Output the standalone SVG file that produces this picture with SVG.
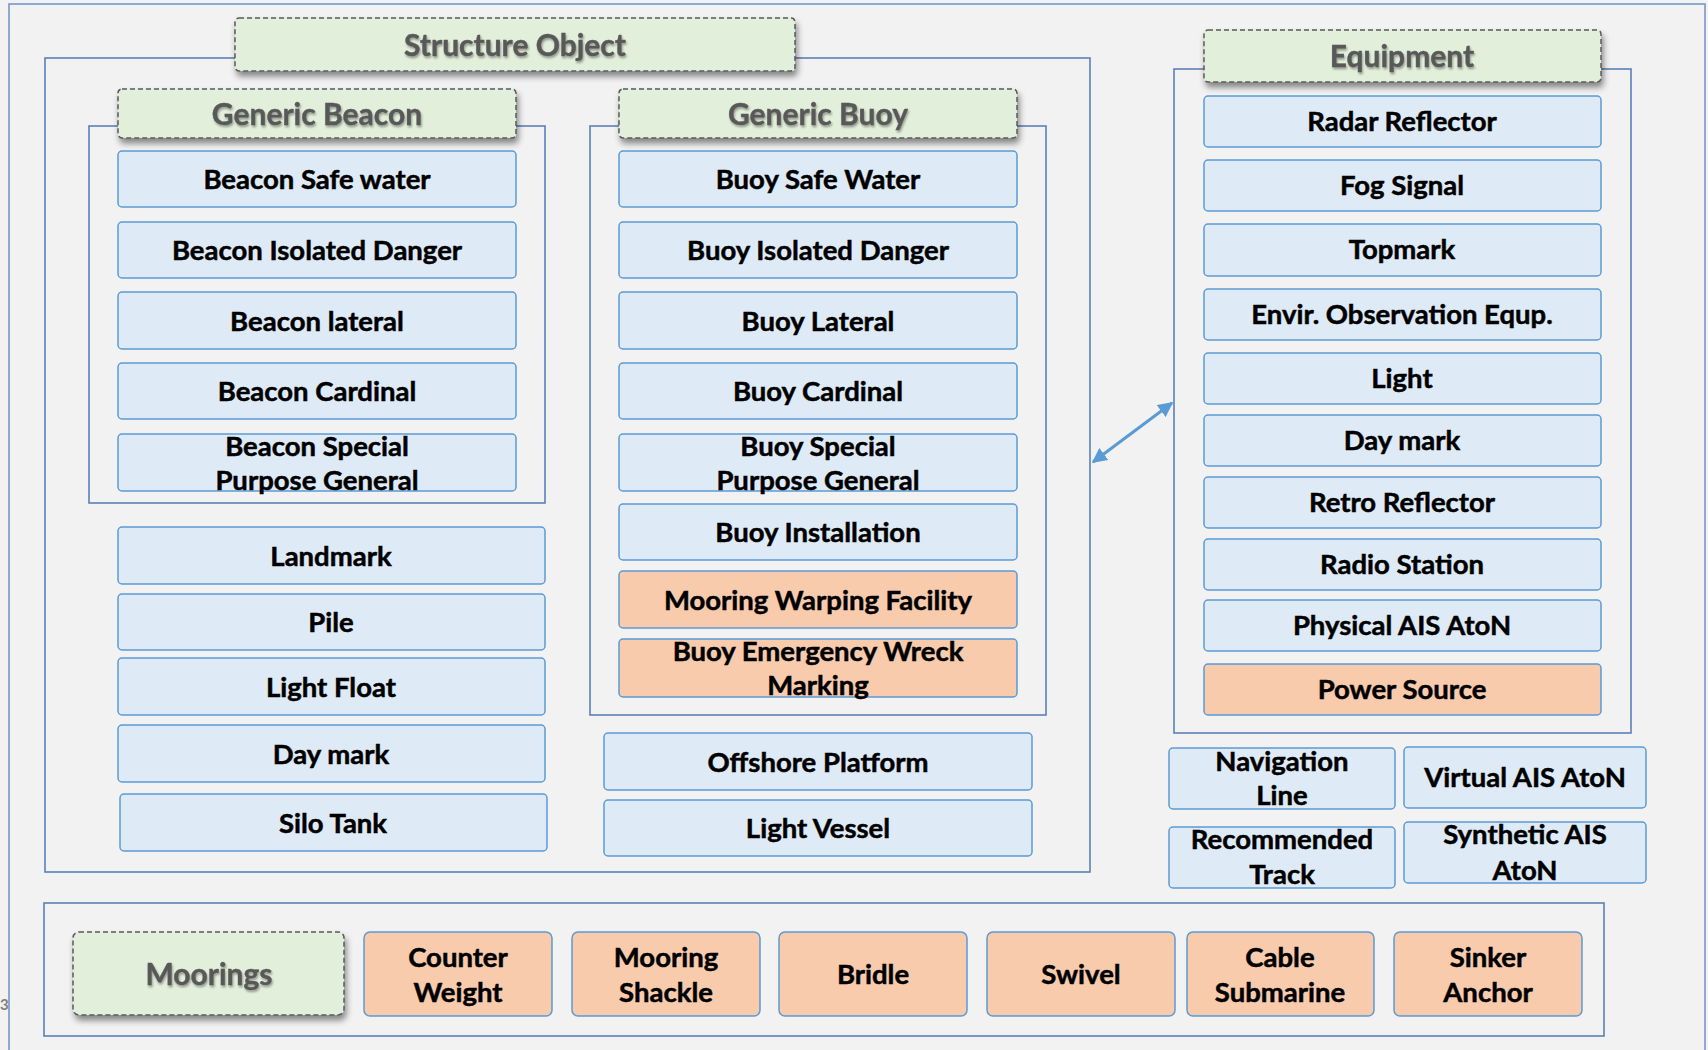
<svg xmlns="http://www.w3.org/2000/svg" width="1708" height="1050" viewBox="0 0 1708 1050">
<defs>
<style>
.bg{fill:#f2f2f2}
.frame{fill:none;stroke:#6f92c4;stroke-width:1.5}
.cont{fill:none;stroke:#5a80b6;stroke-width:1.6}
.hdr{fill:#e2efda;stroke:#595959;stroke-width:1.5;stroke-dasharray:5 3}
.bb{fill:#deebf7;stroke:#5b9bd5;stroke-width:1.5}
.ob{fill:#f8cbad;stroke:#5b9bd5;stroke-width:1.5}
.t{font-family:Lato,"Open Sans","Liberation Sans",sans-serif;font-weight:bold;font-size:27.5px;fill:#000;stroke:#000;stroke-width:0.5;text-anchor:middle}
.ht{font-family:Lato,"Open Sans","Liberation Sans",sans-serif;font-weight:bold;font-size:30px;fill:#595959;stroke:#595959;stroke-width:0.4;text-anchor:middle}
.conn{stroke:#5b9bd5;stroke-width:3;fill:none}
</style>
<filter id="sh" x="-10%" y="-30%" width="120%" height="170%">
<feDropShadow dx="2" dy="5" stdDeviation="3" flood-color="#000" flood-opacity="0.45"/>
</filter>
<filter id="tsh" x="-10%" y="-30%" width="120%" height="170%">
<feDropShadow dx="1" dy="2" stdDeviation="1.2" flood-color="#000" flood-opacity="0.35"/>
</filter>
<marker id="ah" viewBox="0 0 10 10" refX="9" refY="5" markerWidth="5" markerHeight="5" orient="auto-start-reverse" markerUnits="strokeWidth">
<path d="M0,0 L10,5 L0,10 z" fill="#5b9bd5"/>
</marker>
</defs>
<rect class="bg" x="0" y="0" width="1708" height="1050"/>
<text x="0" y="1010" style="font-family:Lato,sans-serif;font-weight:bold;font-size:15px;fill:#808080">3</text>
<rect class="frame" x="9" y="4" width="1696" height="1060"/>

<g id="structure-object">
<rect class="cont" x="45" y="58" width="1045" height="814"/>
<rect class="hdr" x="235" y="18" width="560" height="53" rx="4" filter="url(#sh)"/>
<text class="ht" x="515" y="56" filter="url(#tsh)">Structure Object</text>
</g>

<g id="generic-beacon">
<rect class="cont" x="89" y="126" width="456" height="377"/>
<rect class="hdr" x="118" y="89" width="398" height="49" rx="4" filter="url(#sh)"/>
<text class="ht" x="317" y="125" filter="url(#tsh)">Generic Beacon</text>
</g>
<g id="beacon-safe-water"><rect class="bb" x="118" y="151" width="398" height="56" rx="4"/><text class="t" x="317" y="189">Beacon Safe water</text></g>
<g id="beacon-isolated-danger"><rect class="bb" x="118" y="222" width="398" height="56" rx="4"/><text class="t" x="317" y="260">Beacon Isolated Danger</text></g>
<g id="beacon-lateral"><rect class="bb" x="118" y="292" width="398" height="57" rx="4"/><text class="t" x="317" y="331">Beacon lateral</text></g>
<g id="beacon-cardinal"><rect class="bb" x="118" y="363" width="398" height="56" rx="4"/><text class="t" x="317" y="401">Beacon Cardinal</text></g>
<g id="beacon-special"><rect class="bb" x="118" y="434" width="398" height="57" rx="4"/><text class="t" x="317" y="456">Beacon Special</text><text class="t" x="317" y="490">Purpose General</text></g>

<g id="landmark"><rect class="bb" x="118" y="527" width="427" height="57" rx="4"/><text class="t" x="331" y="566">Landmark</text></g>
<g id="pile"><rect class="bb" x="118" y="594" width="427" height="56" rx="4"/><text class="t" x="331" y="632">Pile</text></g>
<g id="light-float"><rect class="bb" x="118" y="658" width="427" height="57" rx="4"/><text class="t" x="331" y="697">Light Float</text></g>
<g id="day-mark-1"><rect class="bb" x="118" y="725" width="427" height="57" rx="4"/><text class="t" x="331" y="764">Day mark</text></g>
<g id="silo-tank"><rect class="bb" x="120" y="794" width="427" height="57" rx="4"/><text class="t" x="333" y="833">Silo Tank</text></g>

<g id="generic-buoy">
<rect class="cont" x="590" y="126" width="456" height="589"/>
<rect class="hdr" x="619" y="89" width="398" height="49" rx="4" filter="url(#sh)"/>
<text class="ht" x="818" y="125" filter="url(#tsh)">Generic Buoy</text>
</g>
<g id="buoy-safe-water"><rect class="bb" x="619" y="151" width="398" height="56" rx="4"/><text class="t" x="818" y="189">Buoy Safe Water</text></g>
<g id="buoy-isolated-danger"><rect class="bb" x="619" y="222" width="398" height="56" rx="4"/><text class="t" x="818" y="260">Buoy Isolated Danger</text></g>
<g id="buoy-lateral"><rect class="bb" x="619" y="292" width="398" height="57" rx="4"/><text class="t" x="818" y="331">Buoy Lateral</text></g>
<g id="buoy-cardinal"><rect class="bb" x="619" y="363" width="398" height="56" rx="4"/><text class="t" x="818" y="401">Buoy Cardinal</text></g>
<g id="buoy-special"><rect class="bb" x="619" y="434" width="398" height="57" rx="4"/><text class="t" x="818" y="456">Buoy Special</text><text class="t" x="818" y="490">Purpose General</text></g>
<g id="buoy-installation"><rect class="bb" x="619" y="504" width="398" height="56" rx="4"/><text class="t" x="818" y="542">Buoy Installation</text></g>
<g id="mooring-warping"><rect class="ob" x="619" y="571" width="398" height="57" rx="4"/><text class="t" x="818" y="610">Mooring Warping Facility</text></g>
<g id="buoy-emergency"><rect class="ob" x="619" y="639" width="398" height="58" rx="4"/><text class="t" x="818" y="661">Buoy Emergency Wreck</text><text class="t" x="818" y="695">Marking</text></g>

<g id="offshore-platform"><rect class="bb" x="604" y="733" width="428" height="57" rx="4"/><text class="t" x="818" y="772">Offshore Platform</text></g>
<g id="light-vessel"><rect class="bb" x="604" y="800" width="428" height="56" rx="4"/><text class="t" x="818" y="838">Light Vessel</text></g>

<g id="equipment">
<rect class="cont" x="1174" y="69" width="457" height="664"/>
<rect class="hdr" x="1204" y="30" width="397" height="52" rx="4" filter="url(#sh)"/>
<text class="ht" x="1402" y="67" filter="url(#tsh)">Equipment</text>
</g>
<g id="radar-reflector"><rect class="bb" x="1204" y="96" width="397" height="51" rx="4"/><text class="t" x="1402" y="131">Radar Reflector</text></g>
<g id="fog-signal"><rect class="bb" x="1204" y="160" width="397" height="51" rx="4"/><text class="t" x="1402" y="195">Fog Signal</text></g>
<g id="topmark"><rect class="bb" x="1204" y="224" width="397" height="52" rx="4"/><text class="t" x="1402" y="259">Topmark</text></g>
<g id="envir-obs"><rect class="bb" x="1204" y="289" width="397" height="51" rx="4"/><text class="t" x="1402" y="324">Envir. Observation Equp.</text></g>
<g id="light"><rect class="bb" x="1204" y="353" width="397" height="51" rx="4"/><text class="t" x="1402" y="388">Light</text></g>
<g id="day-mark-2"><rect class="bb" x="1204" y="415" width="397" height="51" rx="4"/><text class="t" x="1402" y="450">Day mark</text></g>
<g id="retro-reflector"><rect class="bb" x="1204" y="477" width="397" height="51" rx="4"/><text class="t" x="1402" y="512">Retro Reflector</text></g>
<g id="radio-station"><rect class="bb" x="1204" y="539" width="397" height="51" rx="4"/><text class="t" x="1402" y="574">Radio Station</text></g>
<g id="physical-ais"><rect class="bb" x="1204" y="600" width="397" height="51" rx="4"/><text class="t" x="1402" y="635">Physical AIS AtoN</text></g>
<g id="power-source"><rect class="ob" x="1204" y="664" width="397" height="51" rx="4"/><text class="t" x="1402" y="699">Power Source</text></g>

<g id="navigation-line"><rect class="bb" x="1169" y="748" width="226" height="61" rx="4"/><text class="t" x="1282" y="771">Navigation</text><text class="t" x="1282" y="805">Line</text></g>
<g id="recommended-track"><rect class="bb" x="1169" y="827" width="226" height="61" rx="4"/><text class="t" x="1282" y="849">Recommended</text><text class="t" x="1282" y="884">Track</text></g>
<g id="virtual-ais"><rect class="bb" x="1404" y="747" width="242" height="61" rx="4"/><text class="t" x="1525" y="787">Virtual AIS AtoN</text></g>
<g id="synthetic-ais"><rect class="bb" x="1404" y="822" width="242" height="61" rx="4"/><text class="t" x="1525" y="844">Synthetic AIS</text><text class="t" x="1525" y="880">AtoN</text></g>

<g id="moorings">
<rect class="cont" x="44" y="903" width="1560" height="133"/>
<rect class="hdr" x="73" y="932" width="271" height="83" rx="6" filter="url(#sh)"/>
<text class="ht" x="209" y="985" filter="url(#tsh)">Moorings</text>
</g>
<g id="counter-weight"><rect class="ob" x="364" y="932" width="188" height="84" rx="6"/><text class="t" x="458" y="967">Counter</text><text class="t" x="458" y="1002">Weight</text></g>
<g id="mooring-shackle"><rect class="ob" x="572" y="932" width="188" height="84" rx="6"/><text class="t" x="666" y="967">Mooring</text><text class="t" x="666" y="1002">Shackle</text></g>
<g id="bridle"><rect class="ob" x="779" y="932" width="188" height="84" rx="6"/><text class="t" x="873" y="984">Bridle</text></g>
<g id="swivel"><rect class="ob" x="987" y="932" width="188" height="84" rx="6"/><text class="t" x="1081" y="984">Swivel</text></g>
<g id="cable-submarine"><rect class="ob" x="1187" y="932" width="187" height="84" rx="6"/><text class="t" x="1280" y="967">Cable</text><text class="t" x="1280" y="1002">Submarine</text></g>
<g id="sinker-anchor"><rect class="ob" x="1394" y="932" width="188" height="84" rx="6"/><text class="t" x="1488" y="967">Sinker</text><text class="t" x="1488" y="1002">Anchor</text></g>

<g id="connectors">
<line class="conn" x1="1093" y1="462" x2="1172" y2="403" marker-start="url(#ah)" marker-end="url(#ah)"/>
</g>
</svg>
